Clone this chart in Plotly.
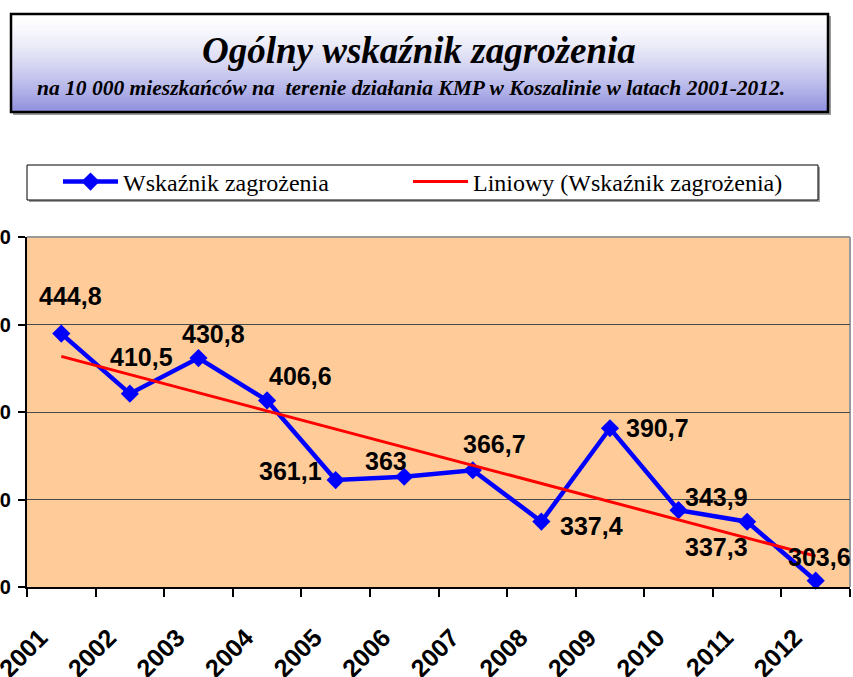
import numpy as np
import plotly.graph_objects as go

# data
years = [str(y) for y in range(2001, 2013)]
values = [444.8, 410.5, 430.8, 406.6, 361.1, 363.0, 366.7, 337.4, 390.7, 343.9, 337.3, 303.6]
series_name = "Wskaźnik zagrożenia"
trend_name = "Liniowy (Wskaźnik zagrożenia)"
title = "Ogólny wskaźnik zagrożenia"
subtitle = "na 10 000 mieszkańców na  terenie działania KMP w Koszalinie w latach 2001-2012."
y_ticks = [300, 350, 400, 450, 500]

# linear trend (Excel "Liniowy")
slope, intercept = np.polyfit(np.arange(len(values)), values, 1)
trend = [intercept + slope * i for i in range(len(values))]

labels = [f"{v:g}".replace(".", ",") for v in values]
# label offsets in px (dx, dy) relative to each point
label_offsets = [(9, 38), (12, 37), (15, 24), (33, 24), (-45, 9), (-18, 16),
                 (22, 26), (50, -4), (48, 0), (38, 13), (-31, -25), (4, 24)]

W, H = 853, 677
L, R, T, B = 27, 3, 237, 90
PW, PH = W - L - R, H - T - B


def px(x):
    return (x - L) / PW


def py(y):
    return (H - B - y) / PH


fig = go.Figure()
fig.add_trace(go.Scatter(
    x=years, y=values, name=series_name, mode="lines+markers",
    line=dict(color="#0000ff", width=4.5),
    marker=dict(symbol="diamond", size=14, color="#0000ff"),
    cliponaxis=False, legend="legend",
))
fig.add_trace(go.Scatter(
    x=years, y=trend, name=trend_name, mode="lines",
    line=dict(color="#ff0000", width=3), legend="legend2",
))

# data labels (x as category index)
for i, (v, lab, (dx, dy)) in enumerate(zip(values, labels, label_offsets)):
    fig.add_annotation(x=i, y=v, xref="x", yref="y", text=f"<b>{lab}</b>",
                       showarrow=False, xshift=dx, yshift=dy,
                       xanchor="center", yanchor="middle",
                       font=dict(family="Liberation Sans", size=25, color="black"))

shapes = []
# title box: shadow, gradient bands, border
shapes.append(dict(type="rect", xref="paper", yref="paper",
                   x0=px(13), x1=px(831), y0=py(16), y1=py(115),
                   fillcolor="#9a9a9a", line=dict(width=0), layer="above"))
bx0, bx1, by0, by1 = 11, 828, 14, 112
nb = 40
for i in range(nb):
    t = i / (nb - 1)
    f = t ** 1.5
    r = int(255 - f * 110)
    g = int(255 - f * 110)
    b = int(255 - f * 32)
    ya = by0 + (by1 - by0) * i / nb
    yb = min(by1, by0 + (by1 - by0) * (i + 1) / nb + 1.5)
    shapes.append(dict(type="rect", xref="paper", yref="paper",
                       x0=px(bx0), x1=px(bx1), y0=py(ya), y1=py(yb),
                       fillcolor=f"rgb({r},{g},{b})", line=dict(width=0), layer="above"))
shapes.append(dict(type="rect", xref="paper", yref="paper",
                   x0=px(bx0), x1=px(bx1), y0=py(by0), y1=py(by1),
                   line=dict(color="black", width=2.5), layer="above"))
# legend box
shapes.append(dict(type="rect", xref="paper", yref="paper",
                   x0=px(29), x1=px(820), y0=py(167), y1=py(202),
                   fillcolor="#a0a0a0", line=dict(width=0), layer="below"))
shapes.append(dict(type="rect", xref="paper", yref="paper",
                   x0=px(27), x1=px(818), y0=py(165), y1=py(200),
                   fillcolor="white", line=dict(color="black", width=1), layer="below"))
# plot area top/right border
shapes.append(dict(type="line", xref="paper", yref="paper", x0=0, x1=1, y0=1, y1=1,
                   line=dict(color="#999999", width=2), layer="below"))
shapes.append(dict(type="line", xref="paper", yref="paper", x0=1, x1=1, y0=0, y1=1,
                   line=dict(color="#999999", width=2), layer="below"))

fig.add_annotation(xref="paper", yref="paper", x=px(419), y=py(50),
                   xanchor="center", yanchor="middle",
                   text=f"<b><i>{title}</i></b>", showarrow=False,
                   font=dict(family="Liberation Serif", size=37, color="black"))
fig.add_annotation(xref="paper", yref="paper", x=px(411), y=py(88),
                   xanchor="center", yanchor="middle",
                   text=f"<b><i>{subtitle}</i></b>", showarrow=False,
                   font=dict(family="Liberation Serif", size=21.5, color="black"))

legend_style = dict(orientation="h", xanchor="left", yanchor="middle",
                    bgcolor="rgba(0,0,0,0)", borderwidth=0, itemwidth=55,
                    font=dict(family="Liberation Serif", size=24, color="black"))

fig.update_layout(
    width=W, height=H,
    margin=dict(l=L, r=R, t=T, b=B),
    paper_bgcolor="white",
    plot_bgcolor="#ffcc99",
    shapes=shapes,
    showlegend=True,
    legend=dict(x=px(58), y=py(182), **legend_style),
    legend2=dict(x=px(408), y=py(182), **legend_style),
    xaxis=dict(type="category", range=[-0.5, 11.5], tickson="boundaries",
               ticks="outside", ticklen=8, tickwidth=1.5, tickcolor="black",
               showline=True, linecolor="black", linewidth=2, showgrid=False,
               tickangle=-45, ticklabelstandoff=24, ticklabelshift=-21,
               tickfont=dict(family="Liberation Sans", size=25, color="black", weight="bold"),
               automargin=False, fixedrange=True),
    yaxis=dict(range=[300, 500], tickvals=y_ticks, ticks="outside", ticklen=7,
               tickwidth=1.5, tickcolor="black",
               showline=True, linecolor="black", linewidth=2,
               showgrid=True, gridcolor="#4a4a4a", gridwidth=1, zeroline=False,
               ticklabelstandoff=3,
               tickfont=dict(family="Liberation Sans", size=20, color="black", weight="bold"),
               automargin=False, fixedrange=True),
)

fig.write_html("out.html", config={"displayModeBar": False},
               post_script="document.body.style.margin='0';")
